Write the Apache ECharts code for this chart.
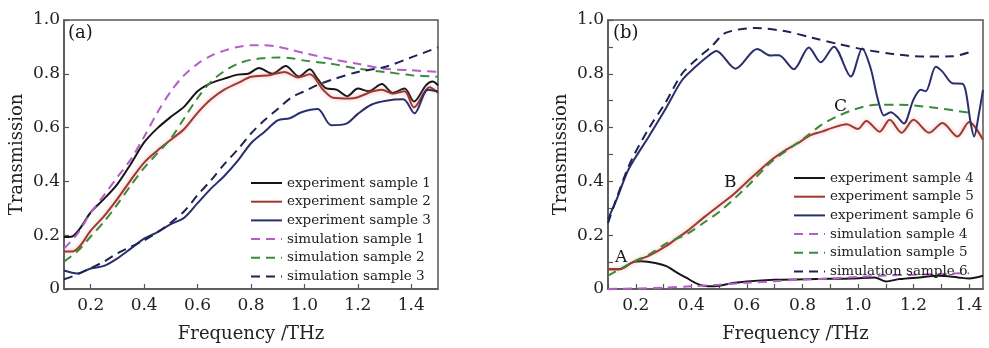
<!DOCTYPE html>
<html><head><meta charset="utf-8">
<script src="https://cdn.jsdelivr.net/npm/echarts@6/dist/echarts.min.js"></script>
<style>html,body{margin:0;padding:0;background:#fff}#c{width:989px;height:348px}</style>
</head><body><div id="c"></div>
<script>
// ---------- data (frequency THz, transmission) ----------
const xTickLabels = [0.2, 0.4, 0.6, 0.8, 1.0, 1.2, 1.4];
const xMinorTicksB = [0.1,0.2,0.3,0.4,0.5,0.6,0.7,0.8,0.9,1.0,1.1,1.2,1.3,1.4];

// panel (a)
const exp1 = [[0.10,0.193],[0.13,0.195],[0.16,0.225],[0.2,0.285],[0.25,0.335],[0.3,0.39],[0.35,0.465],[0.4,0.545],[0.45,0.598],[0.5,0.64],[0.55,0.678],[0.6,0.735],[0.65,0.765],[0.7,0.782],[0.75,0.797],[0.79,0.80],[0.83,0.822],[0.88,0.80],[0.93,0.829],[0.98,0.79],[1.02,0.817],[1.05,0.78],[1.08,0.747],[1.12,0.741],[1.16,0.717],[1.2,0.745],[1.24,0.735],[1.29,0.762],[1.33,0.729],[1.375,0.745],[1.41,0.697],[1.455,0.757],[1.48,0.771],[1.5,0.757]];
const exp2 = [[0.10,0.139],[0.13,0.139],[0.16,0.16],[0.2,0.217],[0.25,0.271],[0.3,0.335],[0.35,0.405],[0.4,0.47],[0.45,0.515],[0.5,0.555],[0.55,0.595],[0.6,0.655],[0.65,0.705],[0.7,0.741],[0.75,0.765],[0.8,0.789],[0.87,0.795],[0.926,0.807],[0.976,0.786],[1.02,0.798],[1.07,0.741],[1.107,0.711],[1.17,0.708],[1.2,0.713],[1.256,0.735],[1.29,0.741],[1.33,0.726],[1.375,0.735],[1.41,0.675],[1.468,0.75],[1.5,0.729]];
const exp3 = [[0.1,0.069],[0.15,0.058],[0.2,0.076],[0.25,0.086],[0.3,0.114],[0.35,0.15],[0.4,0.187],[0.45,0.211],[0.5,0.241],[0.55,0.265],[0.6,0.319],[0.65,0.373],[0.7,0.42],[0.75,0.476],[0.8,0.542],[0.85,0.584],[0.9,0.627],[0.945,0.635],[0.989,0.657],[1.05,0.669],[1.1,0.609],[1.157,0.615],[1.2,0.651],[1.25,0.685],[1.306,0.70],[1.37,0.705],[1.412,0.653],[1.462,0.741],[1.5,0.735]];
const sim1 = [[0.1,0.15],[0.15,0.205],[0.2,0.283],[0.25,0.349],[0.3,0.416],[0.35,0.482],[0.4,0.566],[0.45,0.657],[0.5,0.735],[0.55,0.795],[0.6,0.837],[0.65,0.867],[0.7,0.886],[0.75,0.9],[0.8,0.906],[0.85,0.906],[0.9,0.901],[0.95,0.889],[1.0,0.877],[1.1,0.855],[1.2,0.837],[1.3,0.819],[1.4,0.813],[1.5,0.807]];
const sim2 = [[0.1,0.102],[0.15,0.14],[0.2,0.195],[0.25,0.25],[0.3,0.315],[0.35,0.385],[0.4,0.45],[0.45,0.505],[0.5,0.56],[0.55,0.635],[0.6,0.71],[0.65,0.77],[0.7,0.81],[0.75,0.837],[0.8,0.852],[0.85,0.858],[0.9,0.861],[0.95,0.858],[1.0,0.849],[1.1,0.837],[1.2,0.819],[1.3,0.807],[1.4,0.795],[1.5,0.789]];
const sim3 = [[0.1,0.036],[0.15,0.054],[0.2,0.078],[0.25,0.102],[0.3,0.133],[0.35,0.157],[0.4,0.181],[0.45,0.211],[0.5,0.247],[0.55,0.289],[0.6,0.349],[0.65,0.404],[0.7,0.464],[0.75,0.518],[0.8,0.578],[0.85,0.627],[0.9,0.669],[0.95,0.711],[1.0,0.735],[1.05,0.759],[1.1,0.777],[1.2,0.807],[1.3,0.825],[1.4,0.861],[1.5,0.898]];

// panel (b)
const exp4 = [[0.1,0.073],[0.14,0.073],[0.19,0.10],[0.22,0.103],[0.27,0.097],[0.31,0.085],[0.35,0.06],[0.38,0.043],[0.42,0.02],[0.46,0.01],[0.5,0.012],[0.55,0.022],[0.6,0.028],[0.7,0.034],[0.85,0.037],[0.98,0.039],[1.06,0.043],[1.1,0.028],[1.15,0.037],[1.22,0.043],[1.29,0.049],[1.36,0.043],[1.4,0.039],[1.45,0.049]];
const exp5 = [[0.1,0.073],[0.14,0.073],[0.19,0.10],[0.25,0.125],[0.31,0.16],[0.35,0.19],[0.385,0.215],[0.45,0.27],[0.505,0.314],[0.55,0.35],[0.6,0.398],[0.685,0.477],[0.73,0.51],[0.78,0.54],[0.83,0.572],[0.87,0.585],[0.91,0.60],[0.96,0.612],[1.0,0.595],[1.03,0.625],[1.078,0.585],[1.114,0.629],[1.157,0.581],[1.2,0.629],[1.256,0.581],[1.304,0.617],[1.358,0.567],[1.4,0.621],[1.45,0.555]];
const exp6 = [[0.1,0.26],[0.13,0.33],[0.175,0.447],[0.247,0.567],[0.307,0.669],[0.367,0.777],[0.415,0.826],[0.463,0.868],[0.49,0.885],[0.559,0.819],[0.637,0.892],[0.685,0.868],[0.715,0.869],[0.769,0.817],[0.823,0.898],[0.866,0.843],[0.913,0.901],[0.974,0.79],[1.015,0.894],[1.046,0.819],[1.07,0.711],[1.094,0.645],[1.118,0.657],[1.142,0.639],[1.165,0.615],[1.2,0.705],[1.226,0.741],[1.244,0.735],[1.28,0.826],[1.304,0.808],[1.34,0.765],[1.376,0.763],[1.388,0.735],[1.406,0.615],[1.418,0.567],[1.435,0.65],[1.45,0.74]];
const sim4 = [[0.1,0.0],[0.2,0.002],[0.3,0.005],[0.4,0.01],[0.5,0.016],[0.6,0.023],[0.7,0.029],[0.8,0.035],[0.9,0.039],[1.0,0.045],[1.1,0.05],[1.2,0.053],[1.3,0.056],[1.4,0.059]];
const sim5 = [[0.1,0.05],[0.19,0.10],[0.25,0.13],[0.31,0.17],[0.385,0.205],[0.45,0.25],[0.505,0.29],[0.6,0.38],[0.685,0.47],[0.75,0.52],[0.811,0.565],[0.871,0.612],[0.932,0.645],[0.992,0.669],[1.064,0.685],[1.148,0.685],[1.268,0.675],[1.4,0.655]];
const sim6 = [[0.1,0.245],[0.175,0.458],[0.247,0.597],[0.307,0.693],[0.367,0.801],[0.415,0.85],[0.475,0.904],[0.523,0.952],[0.631,0.97],[0.74,0.958],[0.835,0.934],[0.932,0.91],[1.028,0.889],[1.124,0.874],[1.244,0.864],[1.34,0.865],[1.4,0.88]];

const namesA = ['experiment sample 1','experiment sample 2','experiment sample 3','simulation sample 1','simulation sample 2','simulation sample 3'];
const namesB = ['experiment sample 4','experiment sample 5','experiment sample 6','simulation sample 4','simulation sample 5','simulation sample 6'];

// ---------- styling ----------
const FONT = 'DejaVu Serif';
const C_BLACK = '#151515', C_RED = '#a0382f', C_BLUE = '#2b2e6e', C_PURPLE = '#b45ec8', C_GREEN = '#3b8a3b', C_NAVY = '#1e2352';
const AX = '#555';

function mk(name, data, color, dashed, g, halo) {
  return {
    name, type: 'line', data, xAxisIndex: g, yAxisIndex: g,
    symbol: 'none', smooth: 0.3, animation: false,
    lineStyle: Object.assign({ width: 2, color, type: dashed ? [9, 6] : 'solid' },
      halo ? { shadowColor: 'rgba(230,130,130,0.6)', shadowBlur: 4 } : {}),
    itemStyle: { color }
  };
}

function xAxis(g, max, minor) {
  return {
    gridIndex: g, type: 'value', min: 0.1, max,
    axisLine: { show: true, onZero: false, lineStyle: { color: AX, width: 1.5 } },
    axisTick: { show: true, inside: true, length: 5, customValues: minor ? xMinorTicksB : xTickLabels, lineStyle: { color: AX, width: 1.2 } },
    axisLabel: { customValues: xTickLabels, formatter: v => v.toFixed(1), fontFamily: FONT, fontSize: 17, color: '#222', margin: 8 },
    splitLine: { show: false },
    name: 'Frequency /THz', nameLocation: 'middle', nameGap: 36,
    nameTextStyle: { fontFamily: FONT, fontSize: 18, color: '#222' }
  };
}
function yAxis(g, minor) {
  return {
    gridIndex: g, type: 'value', min: 0, max: 1, interval: 0.2,
    axisLine: { show: true, onZero: false, lineStyle: { color: AX, width: 1.5 } },
    axisTick: { show: true, inside: true, length: 5, lineStyle: { color: AX, width: 1.2 } },
    minorTick: { show: !!minor, splitNumber: 2, length: 5, lineStyle: { color: AX, width: 1.2 } },
    axisLabel: { formatter: v => v === 0 ? '0' : v.toFixed(1), fontFamily: FONT, fontSize: 17, color: '#222', margin: 4 },
    splitLine: { show: false }, minorSplitLine: { show: false },
    name: 'Transmission', nameLocation: 'middle', nameGap: 38, nameRotate: 90,
    nameTextStyle: { fontFamily: FONT, fontSize: 18, color: '#222' }
  };
}
function legend(names, left, top) {
  return {
    data: names, orient: 'vertical', left, top,
    itemWidth: 31, itemHeight: 14, itemGap: 4.7, padding: 0,
    selectedMode: false,
    itemStyle: { opacity: 0 },
    textStyle: { fontFamily: FONT, fontSize: 13.5, color: '#222', lineHeight: 14 }
  };
}
function txt(t, left, top, size) {
  return { type: 'text', left, top, style: { text: t, font: (size || 17) + 'px "' + FONT + '"', fill: '#151515' }, z: 50 };
}

const chart = echarts.init(document.getElementById('c'), null, { renderer: 'canvas' });
chart.setOption({
  backgroundColor: '#fff',
  animation: false,
  grid: [
    { left: 64, top: 20, width: 374, height: 277, show: true, borderColor: AX, borderWidth: 1.5, backgroundColor: 'transparent' },
    { left: 608, top: 20, width: 375, height: 277, show: true, borderColor: AX, borderWidth: 1.5, backgroundColor: 'transparent' }
  ],
  xAxis: [xAxis(0, 1.5, false), xAxis(1, 1.45, true)],
  yAxis: [yAxis(0, false), yAxis(1, true)],
  legend: [legend(namesA, 250, 176), legend(namesB, 793, 171)],
  graphic: [
    txt('(a)', 68, 24, 18), txt('(b)', 613, 24, 18),
    txt('A', 615, 249), txt('B', 724, 174), txt('C', 834, 98)
  ],
  series: [
    mk(namesA[0], exp1, C_BLACK, false, 0),
    mk(namesA[1], exp2, C_RED, false, 0, true),
    mk(namesA[2], exp3, C_BLUE, false, 0),
    mk(namesA[3], sim1, C_PURPLE, true, 0),
    mk(namesA[4], sim2, C_GREEN, true, 0),
    mk(namesA[5], sim3, C_NAVY, true, 0),
    mk(namesB[0], exp4, C_BLACK, false, 1),
    mk(namesB[1], exp5, C_RED, false, 1, true),
    mk(namesB[2], exp6, C_BLUE, false, 1),
    mk(namesB[3], sim4, C_PURPLE, true, 1),
    mk(namesB[4], sim5, C_GREEN, true, 1),
    mk(namesB[5], sim6, C_NAVY, true, 1)
  ]
});
</script></body></html>
